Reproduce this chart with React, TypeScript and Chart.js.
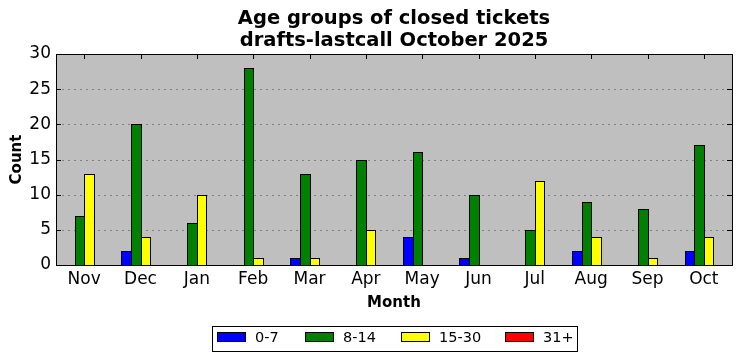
import React, { useEffect, useRef } from "react";
import { Chart, registerables } from "chart.js";

Chart.register(...registerables);

const months = ["Nov", "Dec", "Jan", "Feb", "Mar", "Apr", "May", "Jun", "Jul", "Aug", "Sep", "Oct"];
const age0to7 = [0, 2, 0, 0, 1, 0, 4, 1, 0, 2, 0, 2];
const age8to14 = [7, 20, 6, 28, 13, 15, 16, 10, 5, 9, 8, 17];
const age15to30 = [13, 4, 10, 1, 1, 5, 0, 0, 12, 4, 1, 4];
const age31plus = [0, 0, 0, 0, 0, 0, 0, 0, 0, 0, 0, 0];
const seriesLabels = ["0-7", "8-14", "15-30", "31+"];
const seriesColors = ["#0000ff", "#008000", "#ffff00", "#ff0000"];
const yTicks = [0, 5, 10, 15, 20, 25, 30];
const titleLines = ["Age groups of closed tickets", "drafts-lastcall October 2025"];

const FONT = "'DejaVu Sans', sans-serif";

const framePlugin = {
  id: "frame",
  beforeDraw(chart: any) {
    const { ctx, chartArea: a } = chart;
    ctx.save();
    ctx.fillStyle = "#ffffff";
    ctx.fillRect(0, 0, chart.width, chart.height);
    ctx.fillStyle = "#bfbfbf";
    ctx.fillRect(a.left, a.top, a.right - a.left, a.bottom - a.top);
    ctx.restore();
  },
  beforeDatasetsDraw(chart: any) {
    const { ctx, chartArea: a } = chart;
    const ys = chart.scales.y;
    ctx.save();
    ctx.strokeStyle = "#808080";
    ctx.lineWidth = 1;
    ctx.setLineDash([2, 4]);
    ctx.beginPath();
    for (const v of yTicks) {
      if (v === 0 || v === 30) continue;
      const y = Math.round(ys.getPixelForValue(v)) + 0.5;
      ctx.moveTo(a.left, y);
      ctx.lineTo(a.right, y);
    }
    ctx.stroke();
    ctx.restore();
  },
  afterDatasetsDraw(chart: any) {
    const { ctx } = chart;
    ctx.save();
    ctx.lineWidth = 1;
    ctx.strokeStyle = "#000";
    chart.data.datasets.forEach((ds: any, di: number) => {
      const meta = chart.getDatasetMeta(di);
      meta.data.forEach((bar: any, i: number) => {
        const p = bar.getProps(["x", "y", "base", "width"], true);
        const l = Math.round(p.x - p.width / 2);
        const r = Math.round(p.x + p.width / 2);
        const t = Math.round(p.y);
        const b = Math.round(p.base);
        ctx.fillStyle = seriesColors[di];
        if (b - t > 0) ctx.fillRect(l, t, r - l, b - t);
        ctx.strokeRect(l + 0.5, t + 0.5, r - l, b - t);
      });
    });
    ctx.restore();
  },
  afterDraw(chart: any) {
    const { ctx, chartArea: a } = chart;
    const xs = chart.scales.x;
    const ys = chart.scales.y;
    ctx.save();
    ctx.strokeStyle = "#000";
    ctx.lineWidth = 1;
    ctx.beginPath();
    for (let i = 0; i < months.length; i++) {
      const x = Math.round(xs.getPixelForTick(i)) + 0.5;
      ctx.moveTo(x, a.bottom);
      ctx.lineTo(x, a.bottom - 5);
      ctx.moveTo(x, a.top);
      ctx.lineTo(x, a.top + 5);
    }
    for (const v of yTicks) {
      const y = Math.round(ys.getPixelForValue(v)) + 0.5;
      ctx.moveTo(a.left, y);
      ctx.lineTo(a.left + 5, y);
      ctx.moveTo(a.right, y);
      ctx.lineTo(a.right - 5, y);
    }
    ctx.stroke();
    ctx.strokeRect(Math.round(a.left) + 0.5, Math.round(a.top) + 0.5, Math.round(a.right - a.left), Math.round(a.bottom - a.top));

    const cx = (a.left + a.right) / 2;
    ctx.fillStyle = "#000";
    ctx.textAlign = "center";
    ctx.textBaseline = "middle";
    ctx.font = `bold 19.5px ${FONT}`;
    ctx.fillText(titleLines[0], cx, 19);
    ctx.fillText(titleLines[1], cx, 41);

    ctx.font = `bold 15px ${FONT}`;
    ctx.fillText("Month", cx, 303);
    ctx.save();
    ctx.translate(17, (a.top + a.bottom) / 2);
    ctx.rotate(-Math.PI / 2);
    ctx.fillText("Count", 0, 0);
    ctx.restore();

    const lx = 212.5, ly = 326.5, lw = 365, lh = 25;
    ctx.fillStyle = "#fff";
    ctx.fillRect(lx, ly, lw, lh);
    ctx.strokeStyle = "#000";
    ctx.strokeRect(lx, ly, lw, lh);
    const swatchX = [217, 305, 401, 505];
    ctx.font = `14.5px ${FONT}`;
    ctx.textAlign = "left";
    for (let i = 0; i < seriesLabels.length; i++) {
      ctx.fillStyle = seriesColors[i];
      ctx.fillRect(swatchX[i] + 0.5, 332.5, 28, 9);
      ctx.strokeRect(swatchX[i] + 0.5, 332.5, 28, 9);
      ctx.fillStyle = "#000";
      ctx.fillText(seriesLabels[i], swatchX[i] + 38, 338);
    }
    ctx.restore();
  },
};

export default function App() {
  const ref = useRef<HTMLCanvasElement>(null);
  useEffect(() => {
    document.body.style.margin = "0";
    const seriesData = [age0to7, age8to14, age15to30, age31plus];
    const chart = new Chart(ref.current!, {
      type: "bar",
      data: {
        labels: months,
        datasets: seriesLabels.map((l, i) => ({
          label: l,
          data: seriesData[i],
          backgroundColor: "rgba(0,0,0,0)",
          borderWidth: 0,
          inflateAmount: 0,
          categoryPercentage: 0.68,
          barPercentage: 1,
        })),
      },
      options: {
        animation: false,
        responsive: false,
        maintainAspectRatio: false,
        layout: { padding: { top: 54, left: 0, right: 10, bottom: 0 } },
        plugins: {
          legend: { display: false },
          title: { display: false },
          tooltip: { enabled: false },
        },
        scales: {
          x: {
            grid: { display: false, drawTicks: false },
            border: { display: false },
            ticks: { color: "#000", font: { family: FONT, size: 17 }, padding: 4, maxRotation: 0 },
            afterFit: (s: any) => { s.height = 96; },
          },
          y: {
            min: 0,
            max: 30,
            grid: { display: false, drawTicks: false },
            border: { display: false },
            ticks: { stepSize: 5, color: "#000", font: { family: FONT, size: 17 }, padding: 5 },
            afterFit: (s: any) => { s.width = 56; },
          },
        },
      },
      plugins: [framePlugin],
    } as any);
    return () => chart.destroy();
  }, []);
  return (
    <div style={{ width: 742, height: 361 }}>
      <canvas ref={ref} width={742} height={361} style={{ display: "block" }} />
    </div>
  );
}
